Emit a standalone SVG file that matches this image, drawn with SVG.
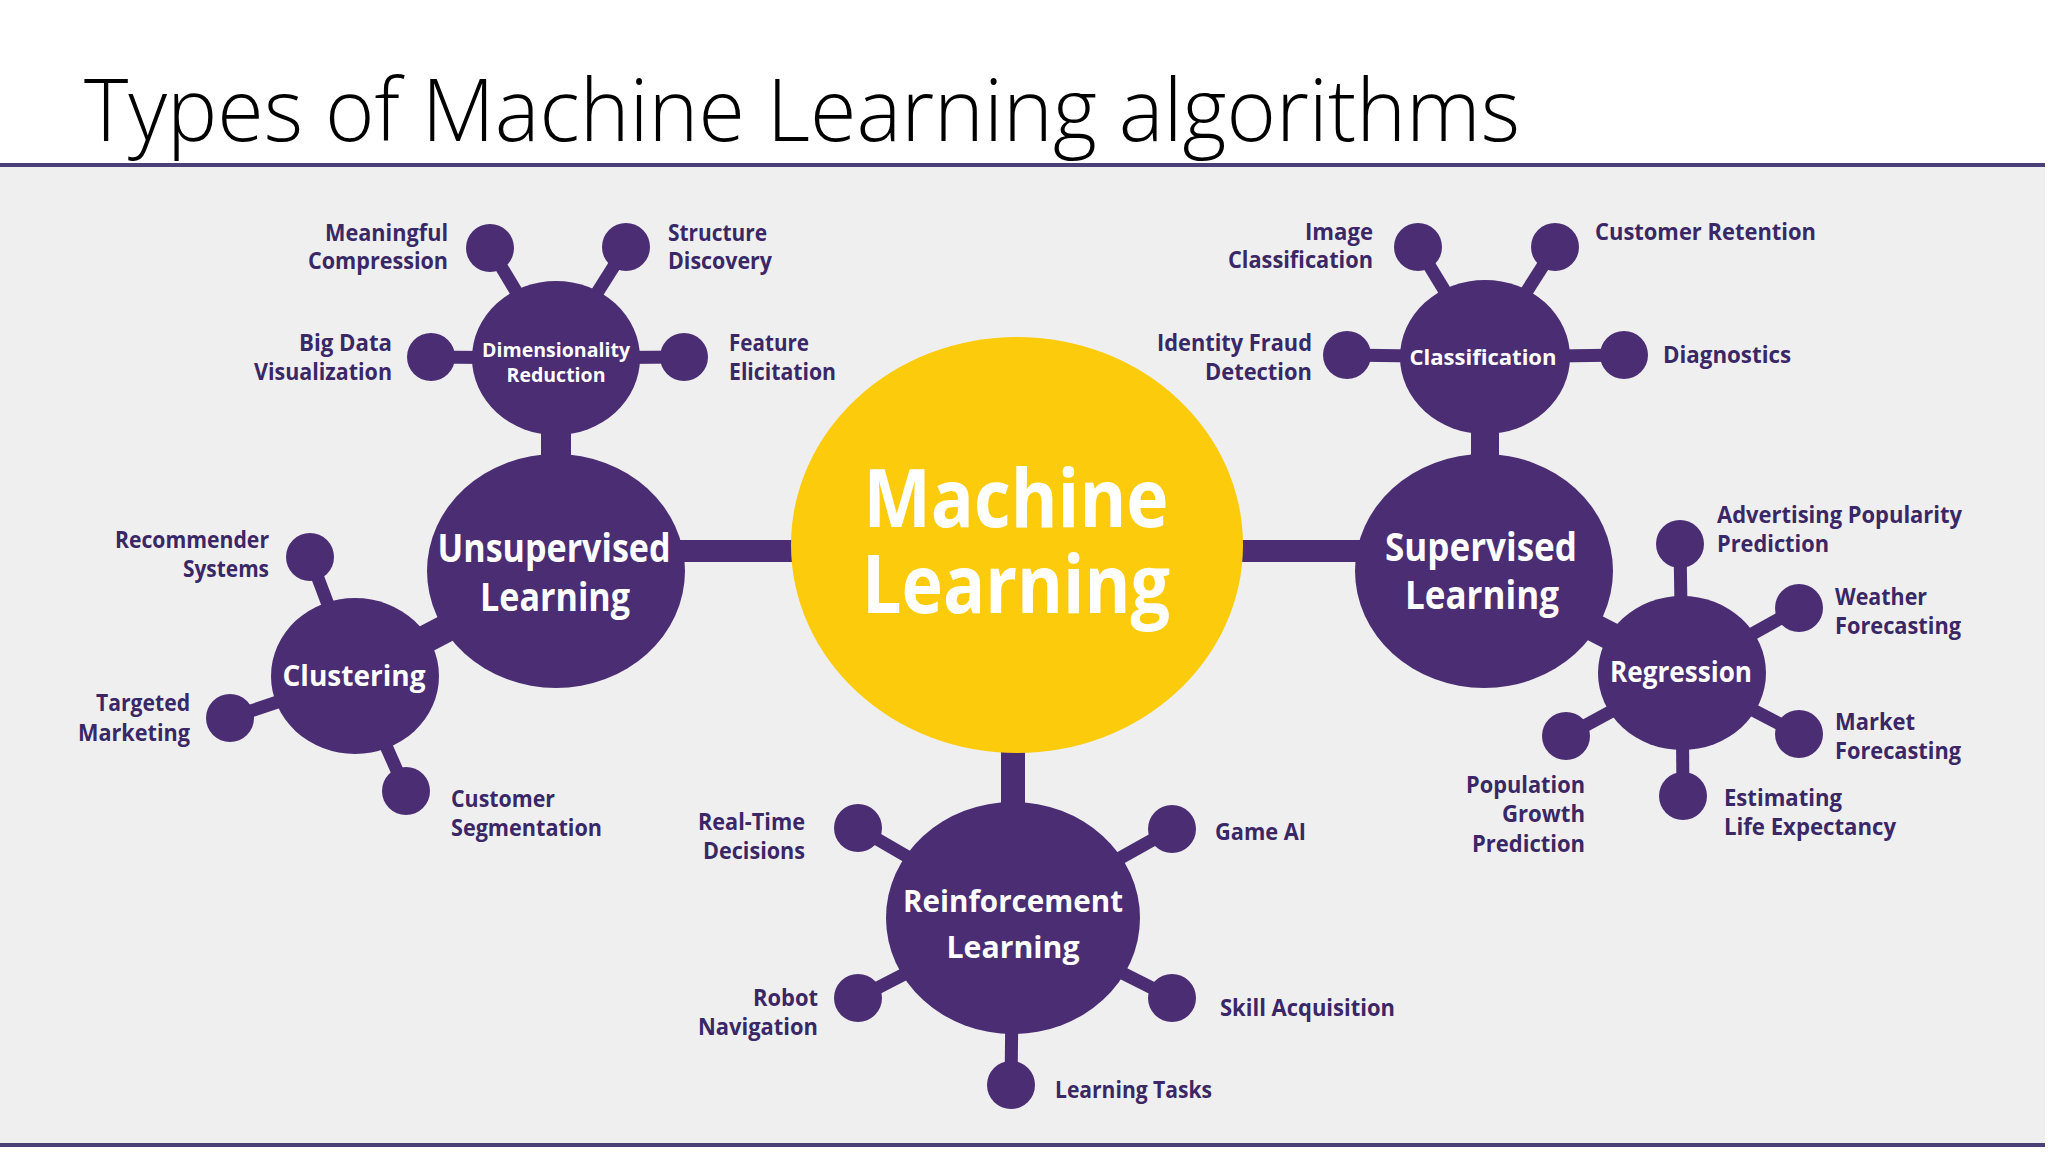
<svg xmlns="http://www.w3.org/2000/svg" width="2048" height="1152" viewBox="0 0 2048 1152">
<style>
.node{fill:#4b2d74}
.ml{fill:#fccb0b}
.stem{stroke:#4b2d74;stroke-width:13;fill:none}
.neck{stroke:#4b2d74;fill:none}
.lbl{font-family:"Open Sans","Liberation Sans",sans-serif;font-weight:700;font-size:23px;fill:#3a2766}
.wl{font-family:"Open Sans","Liberation Sans",sans-serif;font-weight:700;fill:#ffffff;text-anchor:middle}
.e{text-anchor:end}
.title{font-family:"Open Sans","Liberation Sans",sans-serif;font-weight:300;font-size:86px;fill:#000}
</style>
<rect x="0" y="0" width="2048" height="1152" fill="#ffffff"/>
<rect x="0" y="167" width="2045" height="978" fill="#efefef"/>
<line x1="0" y1="165" x2="2045" y2="165" stroke="#4a3f77" stroke-width="4"/>
<line x1="0" y1="1145" x2="2045" y2="1145" stroke="#4a3f77" stroke-width="4"/>
<text class="title" x="84" y="141" textLength="1436" lengthAdjust="spacingAndGlyphs">Types of Machine Learning algorithms</text>

<g id="connectors">
  <line class="neck" x1="680" y1="551" x2="800" y2="551" stroke-width="22"/>
  <line class="neck" x1="1235" y1="551" x2="1360" y2="551" stroke-width="22"/>
  <line class="neck" x1="1013" y1="740" x2="1013" y2="810" stroke-width="24"/>
  <line class="neck" x1="556" y1="420" x2="556" y2="470" stroke-width="30"/>
  <line class="neck" x1="1485" y1="420" x2="1485" y2="470" stroke-width="28"/>
  <line class="neck" x1="355" y1="676" x2="556" y2="571" stroke-width="28"/>
  <line class="neck" x1="1682" y1="673" x2="1484" y2="571" stroke-width="28"/>
  <line class="stem" x1="556" y1="358" x2="490" y2="248"/>
  <line class="stem" x1="556" y1="358" x2="626" y2="247"/>
  <line class="stem" x1="556" y1="358" x2="431" y2="357"/>
  <line class="stem" x1="556" y1="358" x2="684" y2="357"/>
  <line class="stem" x1="1485" y1="357" x2="1418" y2="247"/>
  <line class="stem" x1="1485" y1="357" x2="1555" y2="247"/>
  <line class="stem" x1="1485" y1="357" x2="1347" y2="355"/>
  <line class="stem" x1="1485" y1="357" x2="1624" y2="355"/>
  <line class="stem" x1="355" y1="676" x2="310" y2="557"/>
  <line class="stem" x1="355" y1="676" x2="230" y2="718"/>
  <line class="stem" x1="355" y1="676" x2="406" y2="791"/>
  <line class="stem" x1="1682" y1="673" x2="1680" y2="544"/>
  <line class="stem" x1="1682" y1="673" x2="1799" y2="608"/>
  <line class="stem" x1="1682" y1="673" x2="1799" y2="734"/>
  <line class="stem" x1="1682" y1="673" x2="1683" y2="796"/>
  <line class="stem" x1="1682" y1="673" x2="1566" y2="736"/>
  <line class="stem" x1="1013" y1="918" x2="858" y2="828"/>
  <line class="stem" x1="1013" y1="918" x2="1172" y2="829"/>
  <line class="stem" x1="1013" y1="918" x2="858" y2="998"/>
  <line class="stem" x1="1013" y1="918" x2="1172" y2="998"/>
  <line class="stem" x1="1013" y1="918" x2="1011" y2="1085"/>
</g>

<g id="machine-learning">
  <ellipse class="ml" cx="1017" cy="545" rx="226" ry="208"/>
  <text class="wl" x="1016" y="527" font-size="80" textLength="305" lengthAdjust="spacingAndGlyphs">Machine</text>
  <text class="wl" x="1016" y="613" font-size="80" textLength="308" lengthAdjust="spacingAndGlyphs">Learning</text>
</g>

<g id="unsupervised">
  <ellipse class="node" cx="556" cy="571" rx="129" ry="117"/>
  <text class="wl" x="554" y="562" font-size="39" textLength="233" lengthAdjust="spacingAndGlyphs">Unsupervised</text>
  <text class="wl" x="555" y="611" font-size="39" textLength="150" lengthAdjust="spacingAndGlyphs">Learning</text>
</g>

<g id="supervised">
  <ellipse class="node" cx="1484" cy="571" rx="129" ry="117"/>
  <text class="wl" x="1481" y="561" font-size="39" textLength="192" lengthAdjust="spacingAndGlyphs">Supervised</text>
  <text class="wl" x="1482" y="609" font-size="39" textLength="154" lengthAdjust="spacingAndGlyphs">Learning</text>
</g>

<g id="reinforcement">
  <ellipse class="node" cx="1013" cy="918" rx="127" ry="116"/>
  <text class="wl" x="1013" y="912" font-size="31" textLength="220" lengthAdjust="spacingAndGlyphs">Reinforcement</text>
  <text class="wl" x="1013" y="958" font-size="31" textLength="133" lengthAdjust="spacingAndGlyphs">Learning</text>
</g>

<g id="dimensionality-reduction">
  <ellipse class="node" cx="556" cy="358" rx="84" ry="77"/>
  <text class="wl" x="556" y="357" font-size="19" textLength="148" lengthAdjust="spacingAndGlyphs">Dimensionality</text>
  <text class="wl" x="556" y="382" font-size="19" textLength="99" lengthAdjust="spacingAndGlyphs">Reduction</text>
</g>

<g id="classification">
  <ellipse class="node" cx="1485" cy="357" rx="85" ry="77"/>
  <text class="wl" x="1483" y="365" font-size="22" textLength="147" lengthAdjust="spacingAndGlyphs">Classification</text>
</g>

<g id="clustering">
  <ellipse class="node" cx="355" cy="676" rx="84" ry="78"/>
  <text class="wl" x="354" y="686" font-size="28" textLength="143" lengthAdjust="spacingAndGlyphs">Clustering</text>
</g>

<g id="regression">
  <ellipse class="node" cx="1682" cy="673" rx="84" ry="77"/>
  <text class="wl" x="1681" y="682" font-size="28" textLength="142" lengthAdjust="spacingAndGlyphs">Regression</text>
</g>

<g id="meaningful-compression">
  <circle class="node" cx="490" cy="248" r="24"/>
  <text class="lbl e" x="448" y="241" textLength="123" lengthAdjust="spacingAndGlyphs">Meaningful</text>
  <text class="lbl e" x="448" y="269" textLength="140" lengthAdjust="spacingAndGlyphs">Compression</text>
</g>
<g id="structure-discovery">
  <circle class="node" cx="626" cy="247" r="24"/>
  <text class="lbl" x="668" y="241" textLength="99" lengthAdjust="spacingAndGlyphs">Structure</text>
  <text class="lbl" x="668" y="269" textLength="104" lengthAdjust="spacingAndGlyphs">Discovery</text>
</g>
<g id="big-data-visualization">
  <circle class="node" cx="431" cy="357" r="24"/>
  <text class="lbl e" x="392" y="351" textLength="93" lengthAdjust="spacingAndGlyphs">Big Data</text>
  <text class="lbl e" x="392" y="380" textLength="138" lengthAdjust="spacingAndGlyphs">Visualization</text>
</g>
<g id="feature-elicitation">
  <circle class="node" cx="684" cy="357" r="24"/>
  <text class="lbl" x="729" y="351" textLength="80" lengthAdjust="spacingAndGlyphs">Feature</text>
  <text class="lbl" x="729" y="380" textLength="107" lengthAdjust="spacingAndGlyphs">Elicitation</text>
</g>

<g id="image-classification">
  <circle class="node" cx="1418" cy="247" r="24"/>
  <text class="lbl e" x="1373" y="240" textLength="68" lengthAdjust="spacingAndGlyphs">Image</text>
  <text class="lbl e" x="1373" y="268" textLength="145" lengthAdjust="spacingAndGlyphs">Classification</text>
</g>
<g id="customer-retention">
  <circle class="node" cx="1555" cy="247" r="24"/>
  <text class="lbl" x="1595" y="240" textLength="221" lengthAdjust="spacingAndGlyphs">Customer Retention</text>
</g>
<g id="identity-fraud-detection">
  <circle class="node" cx="1347" cy="355" r="24"/>
  <text class="lbl e" x="1312" y="351" textLength="155" lengthAdjust="spacingAndGlyphs">Identity Fraud</text>
  <text class="lbl e" x="1312" y="380" textLength="107" lengthAdjust="spacingAndGlyphs">Detection</text>
</g>
<g id="diagnostics">
  <circle class="node" cx="1624" cy="355" r="24"/>
  <text class="lbl" x="1663" y="363" textLength="128" lengthAdjust="spacingAndGlyphs">Diagnostics</text>
</g>

<g id="recommender-systems">
  <circle class="node" cx="310" cy="557" r="24"/>
  <text class="lbl e" x="269" y="548" textLength="154" lengthAdjust="spacingAndGlyphs">Recommender</text>
  <text class="lbl e" x="269" y="577" textLength="86" lengthAdjust="spacingAndGlyphs">Systems</text>
</g>
<g id="targeted-marketing">
  <circle class="node" cx="230" cy="718" r="24"/>
  <text class="lbl e" x="190" y="711" textLength="94" lengthAdjust="spacingAndGlyphs">Targeted</text>
  <text class="lbl e" x="190" y="741" textLength="112" lengthAdjust="spacingAndGlyphs">Marketing</text>
</g>
<g id="customer-segmentation">
  <circle class="node" cx="406" cy="791" r="24"/>
  <text class="lbl" x="451" y="807" textLength="104" lengthAdjust="spacingAndGlyphs">Customer</text>
  <text class="lbl" x="451" y="836" textLength="151" lengthAdjust="spacingAndGlyphs">Segmentation</text>
</g>

<g id="advertising-popularity-prediction">
  <circle class="node" cx="1680" cy="544" r="24"/>
  <text class="lbl" x="1717" y="523" textLength="245" lengthAdjust="spacingAndGlyphs">Advertising Popularity</text>
  <text class="lbl" x="1717" y="552" textLength="112" lengthAdjust="spacingAndGlyphs">Prediction</text>
</g>
<g id="weather-forecasting">
  <circle class="node" cx="1799" cy="608" r="24"/>
  <text class="lbl" x="1835" y="605" textLength="92" lengthAdjust="spacingAndGlyphs">Weather</text>
  <text class="lbl" x="1835" y="634" textLength="126" lengthAdjust="spacingAndGlyphs">Forecasting</text>
</g>
<g id="market-forecasting">
  <circle class="node" cx="1799" cy="734" r="24"/>
  <text class="lbl" x="1835" y="730" textLength="80" lengthAdjust="spacingAndGlyphs">Market</text>
  <text class="lbl" x="1835" y="759" textLength="126" lengthAdjust="spacingAndGlyphs">Forecasting</text>
</g>
<g id="estimating-life-expectancy">
  <circle class="node" cx="1683" cy="796" r="24"/>
  <text class="lbl" x="1724" y="806" textLength="118" lengthAdjust="spacingAndGlyphs">Estimating</text>
  <text class="lbl" x="1724" y="835" textLength="172" lengthAdjust="spacingAndGlyphs">Life Expectancy</text>
</g>
<g id="population-growth-prediction">
  <circle class="node" cx="1566" cy="736" r="24"/>
  <text class="lbl e" x="1585" y="793" textLength="119" lengthAdjust="spacingAndGlyphs">Population</text>
  <text class="lbl e" x="1585" y="822" textLength="83" lengthAdjust="spacingAndGlyphs">Growth</text>
  <text class="lbl e" x="1585" y="852" textLength="113" lengthAdjust="spacingAndGlyphs">Prediction</text>
</g>

<g id="real-time-decisions">
  <circle class="node" cx="858" cy="828" r="24"/>
  <text class="lbl e" x="805" y="830" textLength="107" lengthAdjust="spacingAndGlyphs">Real-Time</text>
  <text class="lbl e" x="805" y="859" textLength="102" lengthAdjust="spacingAndGlyphs">Decisions</text>
</g>
<g id="game-ai">
  <circle class="node" cx="1172" cy="829" r="24"/>
  <text class="lbl" x="1215" y="840" textLength="91" lengthAdjust="spacingAndGlyphs">Game AI</text>
</g>
<g id="robot-navigation">
  <circle class="node" cx="858" cy="998" r="24"/>
  <text class="lbl e" x="818" y="1006" textLength="65" lengthAdjust="spacingAndGlyphs">Robot</text>
  <text class="lbl e" x="818" y="1035" textLength="120" lengthAdjust="spacingAndGlyphs">Navigation</text>
</g>
<g id="skill-acquisition">
  <circle class="node" cx="1172" cy="998" r="24"/>
  <text class="lbl" x="1220" y="1016" textLength="175" lengthAdjust="spacingAndGlyphs">Skill Acquisition</text>
</g>
<g id="learning-tasks">
  <circle class="node" cx="1011" cy="1085" r="24"/>
  <text class="lbl" x="1055" y="1098" textLength="157" lengthAdjust="spacingAndGlyphs">Learning Tasks</text>
</g>
</svg>
